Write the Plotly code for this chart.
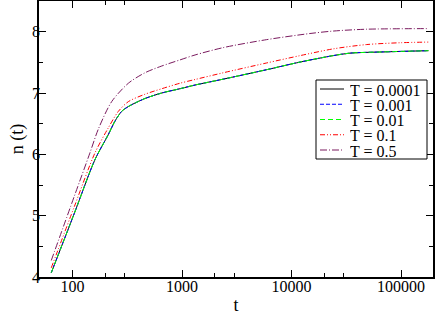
import plotly.graph_objects as go

# ---- data ----
t_base = [64, 104, 160, 212, 244, 281, 324, 459, 653, 960, 1315, 2380, 5930, 12000, 24100, 34200, 68900, 178000]
n_T0001 = [4.07, 5.04, 5.91, 6.32, 6.54, 6.70, 6.78, 6.91, 7.00, 7.07, 7.13, 7.226, 7.38, 7.505, 7.61, 7.65, 7.67, 7.69]
n_T001 = [4.07, 5.04, 5.91, 6.32, 6.54, 6.70, 6.78, 6.91, 7.00, 7.07, 7.13, 7.226, 7.38, 7.505, 7.61, 7.65, 7.67, 7.69]
n_T01 = [4.07, 5.04, 5.91, 6.32, 6.54, 6.70, 6.78, 6.91, 7.00, 7.07, 7.13, 7.226, 7.38, 7.505, 7.61, 7.65, 7.67, 7.69]

t_T1 = [64, 104, 160, 212, 262, 324, 459, 653, 960, 1315, 2380, 5930, 12000, 24100, 48600, 100000, 178000]
n_T1 = [4.15, 5.15, 6.02, 6.43, 6.70, 6.86, 6.98, 7.07, 7.16, 7.22, 7.33, 7.49, 7.61, 7.72, 7.79, 7.82, 7.83]

t_T5 = [64, 104, 144, 172, 228, 324, 459, 653, 960, 1315, 2380, 5930, 14750, 24100, 48600, 178000]
n_T5 = [4.27, 5.32, 6.02, 6.41, 6.86, 7.16, 7.33, 7.44, 7.54, 7.62, 7.74, 7.87, 7.97, 8.01, 8.04, 8.05]

series_names = ["T = 0.0001", "T = 0.001", "T = 0.01", "T = 0.1", "T = 0.5"]
x_tick_vals = [100, 1000, 10000, 100000]
x_tick_text = ["100", "1000", "10000", "100000"]
x_minor_vals = [200, 300, 2000, 3000, 20000, 30000]
y_tick_vals = [4, 5, 6, 7, 8]

# ---- styles ----
colors = ["#000000", "#0000ff", "#00ff00", "#ff0000", "#7a1a5e"]
dashes = ["solid", "4px,2px", "5px,3px", "5px,2px,1px,2px,1px,2px", "7px,2px,1px,2px"]
xs = [t_base, t_base, t_base, t_T1, t_T5]
ys = [n_T0001, n_T001, n_T01, n_T1, n_T5]

FONT = "Liberation Serif"
W, H = 436, 315
L, R, T, B = 39, 433, 1, 277

fig = go.Figure()
for name, x, y, c, d in zip(series_names, xs, ys, colors, dashes):
    fig.add_trace(go.Scatter(x=x, y=y, mode="lines", name=name, showlegend=False,
                             line=dict(color=c, width=1, dash=d, shape="spline", smoothing=0.8)))

def px(v):
    return (v - L) / (R - L)

def py(v):
    return (B - v) / (B - T)

shapes = [dict(type="rect", xref="paper", yref="paper", x0=px(316), x1=px(427), y0=py(159), y1=py(80),
               line=dict(color="black", width=1), fillcolor="white", layer="above")]
annotations = []
row0, step = 89, 15.25
for i, (name, c, d) in enumerate(zip(series_names, colors, dashes)):
    yy = row0 + i * step
    shapes.append(dict(type="line", xref="paper", yref="paper", x0=px(320), x1=px(344), y0=py(yy), y1=py(yy),
                       line=dict(color=c, width=1, dash=d), layer="above"))
    annotations.append(dict(xref="paper", yref="paper", x=px(349), y=py(yy + 1), text=name, showarrow=False,
                            xanchor="left", yanchor="middle", height=15, borderpad=0,
                            font=dict(family=FONT, size=16, color="black")))

fig.update_layout(
    width=W, height=H,
    margin=dict(l=L, r=W - R, t=T, b=H - B, pad=0, autoexpand=False),
    paper_bgcolor="white", plot_bgcolor="white",
    font=dict(family=FONT, size=16, color="black"),
    shapes=shapes, annotations=annotations,
    showlegend=False,
)
fig.update_xaxes(type="log", range=[1.694, 5.292], showgrid=False, zeroline=False, automargin=False,
                 showline=True, linecolor="black", linewidth=1.5, mirror="ticks",
                 ticks="inside", ticklen=7, tickwidth=1.2, tickcolor="black",
                 tickmode="array", tickvals=x_tick_vals, ticktext=x_tick_text,
                 tickfont=dict(family=FONT, size=16), ticklabelstandoff=-6,
                 minor=dict(tickmode="array", tickvals=x_minor_vals, ticks="inside", ticklen=4,
                            tickwidth=1.2, tickcolor="black", showgrid=False),
                 title=dict(text="t", font=dict(family=FONT, size=18), standoff=4))
fig.update_yaxes(range=[4, 8.5], showgrid=False, zeroline=False, automargin=False,
                 showline=True, linecolor="black", linewidth=1.5, mirror="ticks",
                 ticks="inside", ticklen=7, tickwidth=1.2, tickcolor="black",
                 tickmode="array", tickvals=y_tick_vals,
                 tickfont=dict(family=FONT, size=16), ticklabelstandoff=-6,
                 minor=dict(dtick=0.5, ticks="inside", ticklen=4, tickwidth=1.2, tickcolor="black", showgrid=False),
                 title=dict(text="n (t)", font=dict(family=FONT, size=18), standoff=4))

fig.write_html("out.html", config={"displayModeBar": False},
               post_script="document.body.style.margin='0px';document.body.style.padding='0px';")
